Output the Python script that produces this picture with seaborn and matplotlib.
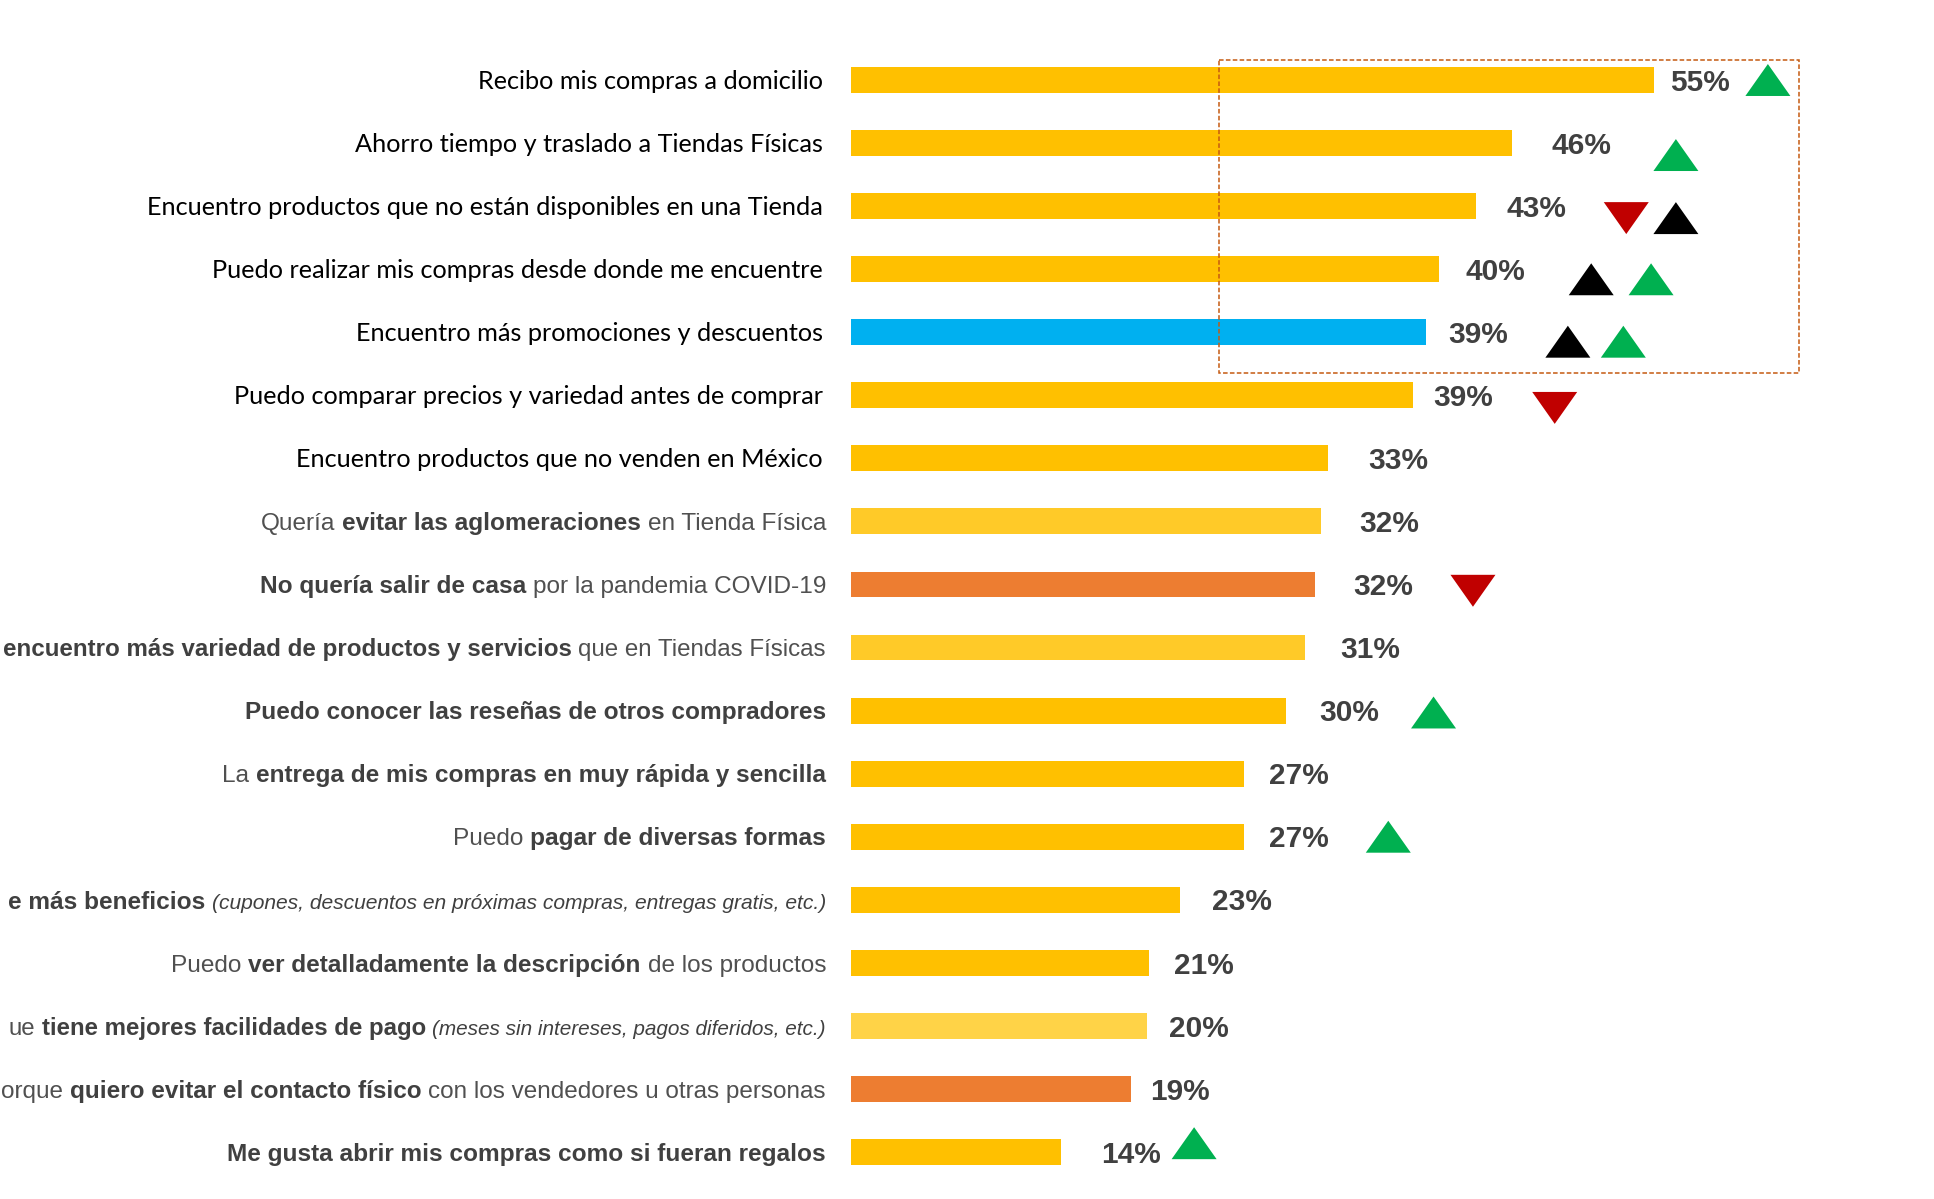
import numpy as np
import pandas as pd
import seaborn as sns
import matplotlib
matplotlib.use("Agg")
import matplotlib.pyplot as plt
from matplotlib.patches import Rectangle
from matplotlib.path import Path
from matplotlib.transforms import blended_transform_factory, IdentityTransform

# ---------------- data ----------------
categories = [
    "Recibo mis compras a domicilio",
    "Ahorro tiempo y traslado a Tiendas Físicas",
    "Encuentro productos que no están disponibles en una Tienda",
    "Puedo realizar mis compras desde donde me encuentre",
    "Encuentro más promociones y descuentos",
    "Puedo comparar precios y variedad antes de comprar",
    "Encuentro productos que no venden en México",
    "Quería evitar las aglomeraciones en Tienda Física",
    "No quería salir de casa por la pandemia COVID-19",
    "encuentro más variedad de productos y servicios que en Tiendas Físicas",
    "Puedo conocer las reseñas de otros compradores",
    "La entrega de mis compras en muy rápida y sencilla",
    "Puedo pagar de diversas formas",
    "e más beneficios (cupones, descuentos en próximas compras, entregas gratis, etc.)",
    "Puedo ver detalladamente la descripción de los productos",
    "ue tiene mejores facilidades de pago (meses sin intereses, pagos diferidos, etc.)",
    "orque quiero evitar el contacto físico con los vendedores u otras personas",
    "Me gusta abrir mis compras como si fueran regalos",
]
values = [55.0, 45.3, 42.8, 40.3, 39.4, 38.5, 32.7, 32.2, 31.8, 31.1,
          29.8, 26.9, 26.9, 22.5, 20.4, 20.3, 19.2, 14.4]
value_labels = ["55%", "46%", "43%", "40%", "39%", "39%", "33%", "32%", "32%",
                "31%", "30%", "27%", "27%", "23%", "21%", "20%", "19%", "14%"]

# label pieces: (text, style)  m = humanist regular, n = regular, b = bold, i = italic
label_parts = [
    [("Recibo mis compras a domicilio", "m")],
    [("Ahorro tiempo y traslado a Tiendas Físicas", "m")],
    [("Encuentro productos que no están disponibles en una Tienda", "m")],
    [("Puedo realizar mis compras desde donde me encuentre", "m")],
    [("Encuentro más promociones y descuentos", "m")],
    [("Puedo comparar precios y variedad antes de comprar", "m")],
    [("Encuentro productos que no venden en México", "m")],
    [("Quería", "n"), ("evitar las aglomeraciones", "b"), ("en Tienda Física", "n")],
    [("No quería salir de casa", "b"), ("por la pandemia COVID-19", "n")],
    [("encuentro más variedad de productos y servicios", "b"), ("que en Tiendas Físicas", "n")],
    [("Puedo conocer las reseñas de otros compradores", "b")],
    [("La", "n"), ("entrega de mis compras en muy rápida y sencilla", "b")],
    [("Puedo", "n"), ("pagar de diversas formas", "b")],
    [("e más beneficios", "b"), ("(cupones, descuentos en próximas compras, entregas gratis, etc.)", "i")],
    [("Puedo", "n"), ("ver detalladamente la descripción", "b"), ("de los productos", "n")],
    [("ue", "n"), ("tiene mejores facilidades de pago", "b"), ("(meses sin intereses, pagos diferidos, etc.)", "i")],
    [("orque", "n"), ("quiero evitar el contacto físico", "b"), ("con los vendedores u otras personas", "n")],
    [("Me gusta abrir mis compras como si fueran regalos", "b")],
]

# trend markers
trend_rows = [0, 1, 2, 2, 3, 3, 4, 4, 5, 8, 10, 12, 17]
trend_kind = ["up_green", "up_green", "down_red", "up_black", "up_black", "up_green",
              "up_black", "up_green", "down_red", "down_red", "up_green", "up_green", "up_green"]

# ---------------- layout / style ----------------
bar_colors = ["#FFC000", "#FFC000", "#FFC000", "#FFC000", "#00B0F0", "#FFC000",
              "#FFC000", "#FFCA28", "#ED7D31", "#FFCA28", "#FFC000", "#FFC000",
              "#FFC000", "#FFC000", "#FFC000", "#FFD347", "#ED7D31", "#FFC000"]
label_x = [56.1, 48.0, 44.9, 42.1, 40.9, 39.9, 35.4, 34.8, 34.4, 33.5,
           32.1, 28.6, 28.6, 24.7, 22.1, 21.8, 20.5, 17.1]
trend_x = [62.8, 56.5, 53.1, 56.5, 50.7, 54.8, 49.1, 52.9, 48.2, 42.6, 39.9, 36.8, 23.5]
trend_dy = [0.0, 0.19, 0.19, 0.19, 0.16, 0.16, 0.15, 0.15, 0.2, 0.1, 0.03, 0.0, -0.14]
kind_color = {"up_green": "#00B050", "up_black": "#000000", "down_red": "#C00000"}

W, H, DPI = 1934, 1199, 100
bar_left_px = 851
px_per_unit = 14.6
row0_px = 80.0
row_px = 63.06
n = len(categories)

sns.set_style("white")
fig = plt.figure(figsize=(W / DPI, H / DPI), dpi=DPI)
fig.patch.set_facecolor("white")
ax = fig.add_axes([bar_left_px / W, 0, 1 - bar_left_px / W, 1])

df = pd.DataFrame({"category": categories, "value": values})
sns.barplot(data=df, x="value", y="category", hue="category", order=categories,
            hue_order=categories, palette=bar_colors, saturation=1, legend=False,
            width=0.41, linewidth=0, ax=ax)

# trend triangles
h = 0.71
up = Path([(-1, -h), (1, -h), (0, h), (-1, -h)], [1, 2, 2, 79])
down = Path([(-1, h), (1, h), (0, -h), (-1, h)], [1, 2, 2, 79])
tdf = pd.DataFrame({"x": trend_x, "y": np.array(trend_rows) + np.array(trend_dy),
                    "kind": trend_kind})
for kind, sub in tdf.groupby("kind"):
    sns.scatterplot(data=sub, x="x", y="y", marker=(down if kind.startswith("down") else up),
                    s=(45 * 72 / DPI) ** 2, color=kind_color[kind], edgecolor="none",
                    linewidth=0, ax=ax, zorder=5, clip_on=False, legend=False)
ax.set_xlim(0, (W - bar_left_px) / px_per_unit)
ax.set_ylim(n - 1 + (H - (row0_px + (n - 1) * row_px)) / row_px, -row0_px / row_px)
ax.set_axis_off()

# dashed highlight box
ax.add_patch(Rectangle((25.2, -0.31), 39.7, 4.95, fill=False, edgecolor="#C55A11",
                       linewidth=1.1, linestyle=(0, (3, 1.5)), zorder=6, clip_on=False))

renderer = fig.canvas.get_renderer()


def fit_size(text, family, weight, style, target):
    t = fig.text(0, 0, text, fontsize=10, family=family, weight=weight, style=style)
    w = t.get_window_extent(renderer).width
    t.remove()
    return 10 * target / w


hum_family = "Lato"
ari_family = "Liberation Sans"
size_m = fit_size("Encuentro productos que no están disponibles en una Tienda", hum_family, "normal", "normal", 680)
size_b = fit_size("Puedo conocer las reseñas de otros compradores", ari_family, "bold", "normal", 580)
size_i = fit_size("(cupones, descuentos en próximas compras, entregas gratis, etc.)", ari_family, "normal", "italic", 620)
size_p = fit_size("55%", ari_family, "bold", "normal", 60)

styles = {
    "m": dict(family=hum_family, weight="normal", style="normal", fontsize=size_m, color="#000000"),
    "n": dict(family=ari_family, weight="normal", style="normal", fontsize=size_b, color="#505050"),
    "b": dict(family=ari_family, weight="bold", style="normal", fontsize=size_b, color="#404040"),
    "i": dict(family=ari_family, weight="normal", style="italic", fontsize=size_i, color="#404040"),
}
cap = {"m": 0.72, "n": 0.716, "b": 0.716, "i": 0.716}

trans = blended_transform_factory(IdentityTransform(), ax.transData)
base_cap = 0.716 * size_b * DPI / 72


def draw_row(row, parts, x_right, scale):
    if parts[0][1] == "m":
        off = 0.5 * cap["m"] * size_m * DPI / 72 / row_px
    else:
        off = 0.5 * base_cap / row_px
    x = x_right
    made = []
    for txt, st in reversed(parts):
        props = dict(styles[st])
        props["fontsize"] = props["fontsize"] * scale
        t = ax.text(x, row + off, txt, transform=trans, ha="right", va="baseline",
                    clip_on=False, **props)
        made.append(t)
        bb = t.get_window_extent(renderer)
        x = bb.x0 - 0.278 * size_b * scale * DPI / 72
    left = min(t.get_window_extent(renderer).x0 for t in made)
    return made, left


for row, parts in enumerate(label_parts):
    x_right = 823 if parts[0][1] == "m" else 826
    made, left = draw_row(row, parts, x_right, 1.0)
    if left < 3:
        for t in made:
            t.remove()
        scale = (x_right - 3) / (x_right - left)
        draw_row(row, parts, x_right, scale)

# value labels
p_off = 0.5 * 0.716 * size_p * DPI / 72 / row_px
for row, (lx, lab) in enumerate(zip(label_x, value_labels)):
    ax.text(lx, row + p_off, lab, ha="left", va="baseline", family=ari_family,
            weight="bold", fontsize=size_p, color="#404040", clip_on=False)

fig.savefig("out.png", dpi=DPI, facecolor="white")
